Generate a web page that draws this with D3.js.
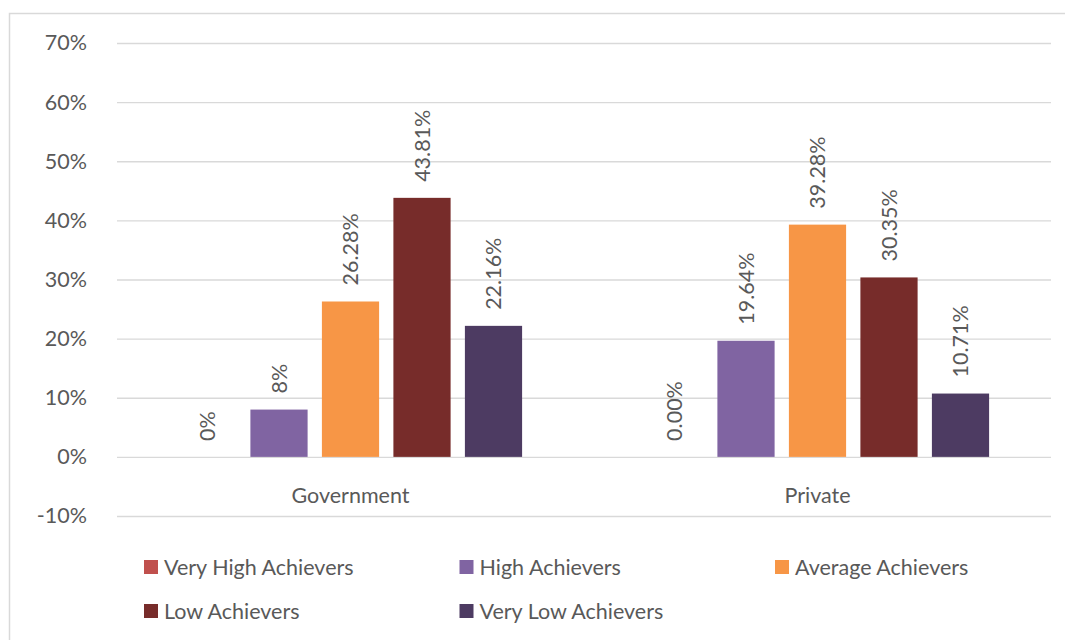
<!DOCTYPE html>
<html>
<head>
<meta charset="utf-8">
<script src="https://cdn.jsdelivr.net/npm/d3@7"></script>
<style>
  html, body { margin: 0; padding: 0; background: #fff; }
  svg { display: block; }
  text { font-family: Lato, "Open Sans", sans-serif; fill: #595959; }
</style>
</head>
<body>
<svg id="chart" width="1065" height="640"></svg>
<script>
// Share of students in each achievement band, by school type (percent)
const categories = ["Government", "Private"];
const series = ["Very High Achievers", "High Achievers", "Average Achievers", "Low Achievers", "Very Low Achievers"];
const governmentValues = [0, 8, 26.28, 43.81, 22.16];
const privateValues = [0, 19.64, 39.28, 30.35, 10.71];
const governmentLabels = ["0%", "8%", "26.28%", "43.81%", "22.16%"];
const privateLabels = ["0.00%", "19.64%", "39.28%", "30.35%", "10.71%"];
const yTicks = [-10, 0, 10, 20, 30, 40, 50, 60, 70];
const colors = ["#C0504D", "#8064A2", "#F79646", "#772C2A", "#4D3B62"];

const rows = [
  { category: categories[0], values: governmentValues, labels: governmentLabels },
  { category: categories[1], values: privateValues, labels: privateLabels }
];

const svg = d3.select("#chart");
const plot = { left: 117, right: 1051, top: 43, bottom: 516 };
const fontSize = "21.5px";

// outer frame
svg.append("rect")
  .attr("x", 9.5).attr("y", 13.5)
  .attr("width", 1070).attr("height", 640)
  .attr("fill", "none").attr("stroke", "#D9D9D9").attr("stroke-width", 1.5);

const y = d3.scaleLinear().domain([-10, 70]).range([plot.bottom, plot.top]);
const x0 = d3.scaleBand().domain(categories).range([plot.left, plot.right]);
const gutter = (x0.bandwidth() - 357.5) / 2;
const x1 = d3.scaleBand().domain(series)
  .range([gutter, x0.bandwidth() - gutter])
  .paddingInner(0.2).paddingOuter(0.1);
const color = d3.scaleOrdinal().domain(series).range(colors);

// gridlines and tick labels
const yAxis = d3.axisLeft(y).tickValues(yTicks).tickFormat(d => d + "%")
  .tickSize(-(plot.right - plot.left)).tickPadding(30);
const gy = svg.append("g").attr("transform", `translate(${plot.left},0)`).call(yAxis);
gy.select(".domain").remove();
gy.selectAll(".tick line").attr("stroke", "#D9D9D9").attr("stroke-width", 1.3);
gy.selectAll(".tick text").style("font-size", fontSize).attr("fill", "#595959");

// category labels
const xAxis = d3.axisBottom(x0).tickSize(0).tickPadding(0);
const gx = svg.append("g").attr("transform", `translate(0,${y(0)})`).call(xAxis);
gx.select(".domain").remove();
gx.selectAll(".tick text").style("font-size", fontSize).attr("fill", "#595959")
  .attr("y", 39).attr("dy", "0.35em");

// bars
const groups = svg.append("g").selectAll("g").data(rows).join("g")
  .attr("transform", d => `translate(${x0(d.category)},0)`);

const items = d => series.map((s, i) => ({ key: s, value: d.values[i], label: d.labels[i] }));

groups.selectAll("rect").data(items).join("rect")
  .attr("x", d => x1(d.key))
  .attr("width", x1.bandwidth())
  .attr("y", d => y(Math.max(0, d.value)))
  .attr("height", d => Math.abs(y(d.value) - y(0)))
  .attr("fill", d => color(d.key));

// value labels, rotated
groups.selectAll("text.value").data(items).join("text")
  .attr("class", "value")
  .attr("transform", d => `translate(${x1(d.key) + x1.bandwidth() / 2},${y(Math.max(0, d.value)) - 16}) rotate(-90)`)
  .attr("dy", "0.35em")
  .attr("text-anchor", "start")
  .style("font-size", fontSize)
  .attr("fill", "#404040")
  .text(d => d.label);

// legend: three columns, two rows
const legendCols = [144, 459.5, 775];
const legendRows = [567, 611];
const legend = svg.append("g").selectAll("g").data(series).join("g")
  .attr("transform", (d, i) => `translate(${legendCols[i % 3]},${legendRows[Math.floor(i / 3)]})`);
legend.append("rect").attr("x", 0).attr("y", -7).attr("width", 14).attr("height", 14)
  .attr("fill", d => color(d));
legend.append("text").attr("x", 20).attr("y", 0).attr("dy", "0.35em")
  .style("font-size", fontSize).attr("fill", "#595959").text(d => d);
</script>
</body>
</html>
